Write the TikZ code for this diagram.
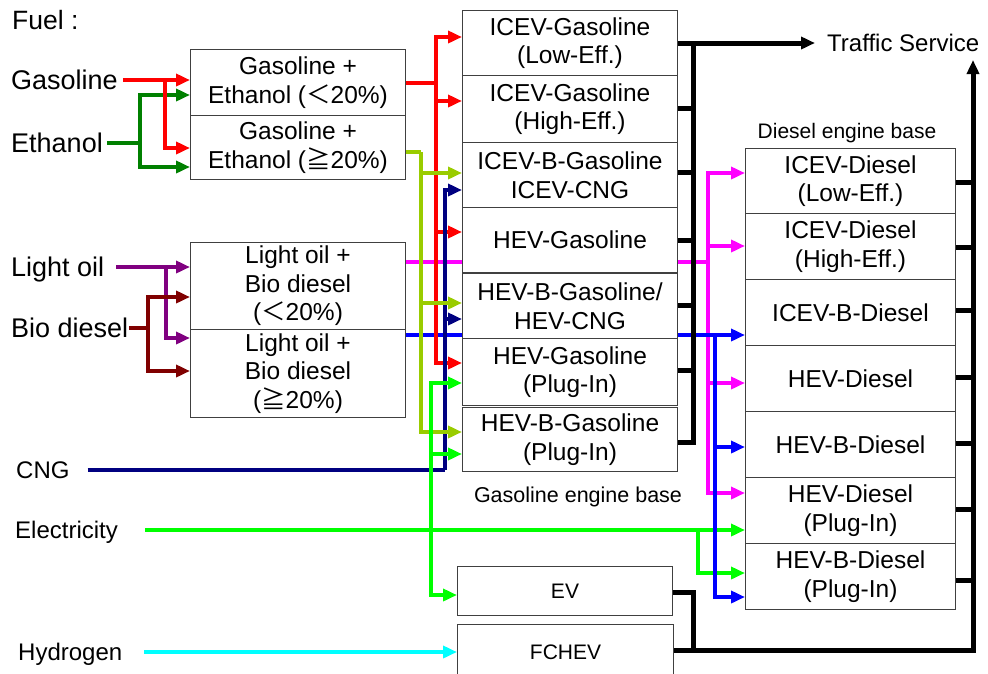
\documentclass[tikz,border=0pt]{standalone}
\usepackage{fontspec}
\setmainfont{Liberation Sans}
\newfontfamily\cjk{Noto Sans CJK JP}
\usetikzlibrary{arrows.meta,backgrounds}
\newcommand{\fLT}{{\cjk ＜}}
\newcommand{\fGE}{{\cjk ≧}}
\definecolor{cRed}{HTML}{FF0000}
\definecolor{cDGreen}{HTML}{008000}
\definecolor{cYG}{HTML}{99CC00}
\definecolor{cNavy}{HTML}{000080}
\definecolor{cMag}{HTML}{FF00FF}
\definecolor{cPurple}{HTML}{800080}
\definecolor{cDRed}{HTML}{800000}
\definecolor{cBlue}{HTML}{0000FF}
\definecolor{cGreen}{HTML}{00FF00}
\definecolor{cCyan}{HTML}{00FFFF}
\tikzset{
  box/.style={draw=black!75, line width=1pt, fill=white, align=center, inner sep=0pt,
    anchor=north west, font=\fontsize{24.5}{28.5}\selectfont},
  lbl/.style={inner sep=0pt, anchor=west, font=\fontsize{27}{30}\selectfont, text height=19pt, text depth=0pt},
  lbls/.style={inner sep=0pt, anchor=west, font=\fontsize{24}{28}\selectfont, text height=17pt, text depth=0pt},
  flow/.style={line width=4.5pt},
  arr/.style={-{Triangle[length=14pt,width=12pt]}},
  blk/.style={line width=5pt, black},
}
\begin{document}
\begin{tikzpicture}[x=1pt,y=-1pt]
\useasboundingbox (0,0) rectangle (988,673);
% labels
\node[lbls, font=\fontsize{26.5}{30}\selectfont, text height=19pt] (fuel) at (12,20) {Fuel :};
\node[lbl] (gas) at (11,80) {Gasoline};
\node[lbl] (eth) at (11,143) {Ethanol};
\node[lbl] (lo) at (11,267) {Light oil};
\node[lbl] (bd) at (11,328) {Bio diesel};
\node[lbls] (cng) at (16,470) {CNG};
\node[lbls] (elec) at (15,530) {Electricity};
\node[lbls] (hyd) at (18,652) {Hydrogen};
\node[lbls] (ts) at (827,43) {Traffic Service};
\node[inner sep=0pt, font=\fontsize{21}{24}\selectfont] (deb) at (847,133) {Diesel engine base};
\node[inner sep=0pt, font=\fontsize{21.5}{24}\selectfont] (geb) at (578,497) {Gasoline engine base};
% mix boxes
\node[box, minimum width=215pt, minimum height=66pt] (ge1) at (190,49) {Gasoline +\\Ethanol (\fLT20\%)};
\node[box, minimum width=215pt, minimum height=64pt] (ge2) at (190,115) {Gasoline +\\Ethanol (\fGE20\%)};
\node[box, minimum width=215pt, minimum height=87pt] (lb1) at (190,242) {Light oil +\\Bio diesel\\(\fLT20\%)};
\node[box, minimum width=215pt, minimum height=88pt] (lb2) at (190,329) {Light oil +\\Bio diesel\\(\fGE20\%)};
% gasoline engine base
\node[box, minimum width=215pt, minimum height=65pt] (g1) at (462,10) {ICEV-Gasoline\\(Low-Eff.)};
\node[box, minimum width=215pt, minimum height=67pt] (g2) at (462,75) {ICEV-Gasoline\\(High-Eff.)};
\node[box, minimum width=215pt, minimum height=65pt] (g3) at (462,142) {ICEV-B-Gasoline\\ICEV-CNG};
\node[box, minimum width=215pt, minimum height=65pt] (g4) at (462,207) {HEV-Gasoline};
\node[box, minimum width=215pt, minimum height=65pt] (g5) at (462,273) {HEV-B-Gasoline/\\HEV-CNG};
\node[box, minimum width=215pt, minimum height=67pt] (g6) at (462,338) {HEV-Gasoline\\(Plug-In)};
\node[box, minimum width=215pt, minimum height=64pt] (g7) at (462,407) {HEV-B-Gasoline\\(Plug-In)};
\node[box, minimum width=215pt, minimum height=49pt, font=\fontsize{21}{24}\selectfont] (ev) at (457,566) {EV};
\node[box, minimum width=216pt, minimum height=56pt, font=\fontsize{21}{24}\selectfont] (fc) at (457,624) {FCHEV};
% diesel engine base
\node[box, minimum width=210pt, minimum height=65pt] (d1) at (745,148) {ICEV-Diesel\\(Low-Eff.)};
\node[box, minimum width=210pt, minimum height=66pt] (d2) at (745,213) {ICEV-Diesel\\(High-Eff.)};
\node[box, minimum width=210pt, minimum height=66pt] (d3) at (745,279) {ICEV-B-Diesel};
\node[box, minimum width=210pt, minimum height=66pt] (d4) at (745,345) {HEV-Diesel};
\node[box, minimum width=210pt, minimum height=66pt] (d5) at (745,411) {HEV-B-Diesel};
\node[box, minimum width=210pt, minimum height=66pt] (d6) at (745,477) {HEV-Diesel\\(Plug-In)};
\node[box, minimum width=210pt, minimum height=66pt] (d7) at (745,543) {HEV-B-Diesel\\(Plug-In)};
\coordinate (tsin) at (973,60);
\begin{scope}[on background layer]
% magenta: light oil + bio diesel < 20%
\draw[flow, cMag] (lb1.east |- 0,262) -- (708,262);
\draw[flow, cMag, arr] (708,262) |- (d1.west |- 0,173);
\draw[flow, cMag, arr] (708,262) |- (d2.west |- 0,246);
\draw[flow, cMag, arr] (708,262) |- (d4.west |- 0,383);
\draw[flow, cMag, arr] (708,262) |- (d6.west |- 0,493);
% electricity
\draw[flow, cGreen, arr] ([xshift=27pt]elec.east) -- (d6.west |- 0,530);
\draw[flow, cGreen, arr] (698,530) |- (d7.west |- 0,573);
% blue: light oil + bio diesel >= 20%
\draw[flow, cBlue, arr] (lb2.east |- 0,335) -- (d3.west |- 0,335);
\draw[flow, cBlue, arr] (715,335) |- (d5.west |- 0,447);
\draw[flow, cBlue, arr] (715,335) |- (d7.west |- 0,597);
% hydrogen
\draw[flow, cCyan, arr] ([xshift=22pt]hyd.east) -- (fc.west |- 0,652);
% light oil
\draw[flow, cPurple, arr] ([xshift=12pt]lo.east) -- (lb1.west |- 0,267);
\draw[flow, cPurple, arr] (166,267) |- (lb2.west |- 0,338);
% bio diesel
\draw[flow, cDRed] ([xshift=1pt]bd.east) -- (148,328);
\draw[flow, cDRed, arr] (148,328) |- (lb1.west |- 0,297);
\draw[flow, cDRed, arr] (148,328) |- (lb2.west |- 0,371);
% ethanol
\draw[flow, cDGreen] ([xshift=4pt]eth.east) -- (140,143);
\draw[flow, cDGreen, arr] (140,143) |- (ge1.west |- 0,95);
\draw[flow, cDGreen, arr] (140,143) |- (ge2.west |- 0,167);
% gasoline
\draw[flow, cRed, arr] ([xshift=5pt]gas.east) -- (ge1.west |- 0,80);
\draw[flow, cRed, arr] (165,80) |- (ge2.west |- 0,148);
% gasoline + ethanol < 20%
\draw[flow, cRed] (ge1.east |- 0,83) -- (436,83);
\draw[flow, cRed, arr] (436,83) |- (g1.west |- 0,37);
\draw[flow, cRed, arr] (436,83) |- (g2.west |- 0,101);
\draw[flow, cRed, arr] (436,83) |- (g4.west |- 0,232);
\draw[flow, cRed, arr] (436,83) |- (g6.west |- 0,363);
% CNG
\draw[flow, cNavy] ([xshift=18pt]cng.east) -- (445,470);
\draw[flow, cNavy, arr] (445,470) |- (g3.west |- 0,190);
\draw[flow, cNavy, arr] (445,470) |- (g5.west |- 0,319);
% gasoline + ethanol >= 20%
\draw[flow, cYG] (ge2.east |- 0,152) -- (421,152);
\draw[flow, cYG, arr] (421,152) |- (g3.west |- 0,173);
\draw[flow, cYG, arr] (421,152) |- (g5.west |- 0,303);
\draw[flow, cYG, arr] (421,152) |- (g7.west |- 0,432);
% electricity to gasoline PHEV / EV
\draw[flow, cGreen, arr] (431,530) |- (g6.west |- 0,383);
\draw[flow, cGreen, arr] (431,530) |- (g7.west |- 0,454);
\draw[flow, cGreen, arr] (431,530) |- (ev.west |- 0,595);
% outputs
\draw[blk, arr] (g1.east |- 0,43) -- ([xshift=-12pt]ts.west);
\draw[blk] (693,43) -- (693,442) -- (g7.east |- 0,442);
\draw[blk] (g2.east |- 0,108) -- (693,108);
\draw[blk] (g3.east |- 0,172) -- (693,172);
\draw[blk] (g4.east |- 0,240) -- (693,240);
\draw[blk] (g5.east |- 0,305) -- (693,305);
\draw[blk] (g6.east |- 0,370) -- (693,370);
\draw[blk] (ev.east |- 0,592) -- (693,592) -- (693,650);
\draw[blk, arr] (fc.east |- 0,650) -- (973,650) -- (tsin);
\draw[blk] (d1.east |- 0,182) -- (973,182);
\draw[blk] (d2.east |- 0,247) -- (973,247);
\draw[blk] (d3.east |- 0,310) -- (973,310);
\draw[blk] (d4.east |- 0,377) -- (973,377);
\draw[blk] (d5.east |- 0,443) -- (973,443);
\draw[blk] (d6.east |- 0,509) -- (973,509);
\draw[blk] (d7.east |- 0,580) -- (973,580);
\end{scope}
\end{tikzpicture}
\end{document}
